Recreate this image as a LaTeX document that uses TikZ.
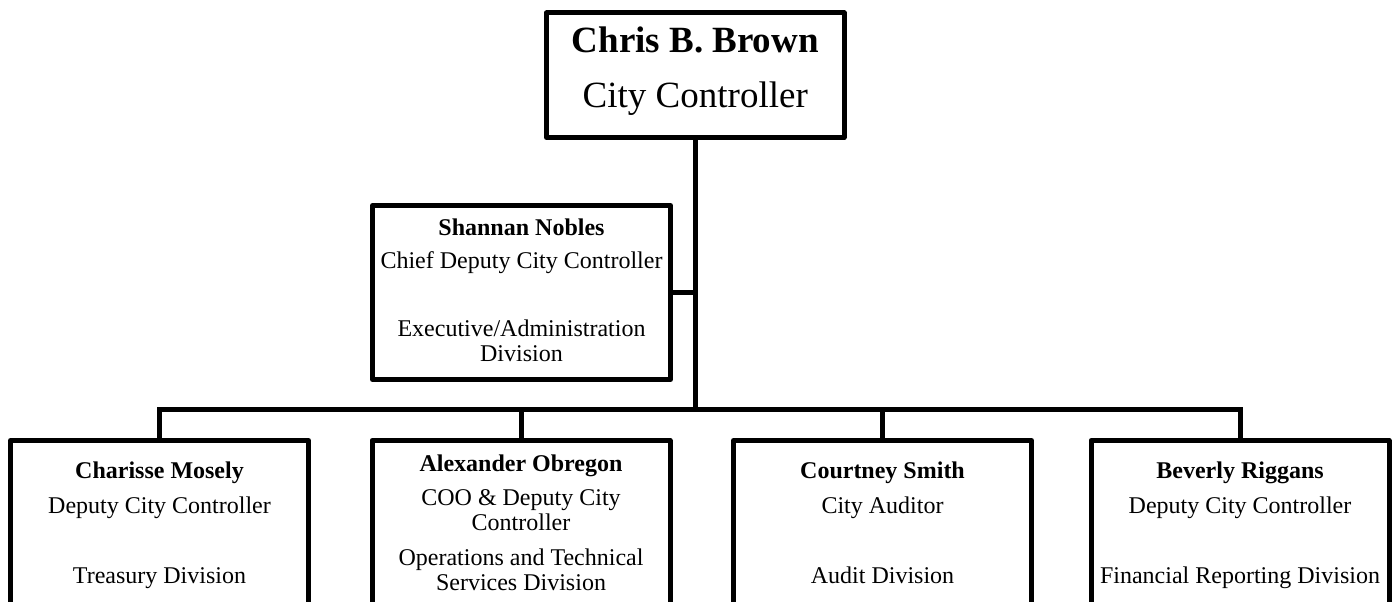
\documentclass[tikz,border=0pt]{standalone}
\usepackage{fontspec}
\setmainfont{Liberation Serif}
\begin{document}
\begin{tikzpicture}[x=1pt,y=-1pt,
  box/.style={draw=black,line width=5pt,line join=round,rectangle,inner sep=0pt,minimum width=298pt},
  conn/.style={draw=black,line width=5pt,line join=miter,line cap=rect},
  txt/.style={inner sep=0pt,anchor=base,font=\fontsize{24}{25}\selectfont},
  bigtxt/.style={inner sep=0pt,anchor=base,font=\fontsize{37}{40}\selectfont}]
\useasboundingbox (0,0) rectangle (1398,602);
\clip (0,0) rectangle (1398,602);
\fill[white] (0,0) rectangle (1398,602);
% boxes
\node[box,minimum width=297.5pt,minimum height=124.5pt] (boss) at (695.25,75.25) {};
\node[box,minimum height=174pt] (sn) at (521.5,292.5) {};
\node[box,minimum height=170pt] (cm) at (159.5,525.5) {};
\node[box,minimum height=170pt] (ao) at (521,525.5) {};
\node[box,minimum height=170pt] (cs) at (882.5,525.5) {};
\node[box,minimum height=170pt] (br) at (1240,525.5) {};
\coordinate (bar) at (0,409);
% connectors
\draw[conn] (boss.south) -- (boss.south |- bar);
\draw[conn] (sn.east) -- (sn.east -| boss.south);
\draw[conn] (cm.north) -- (cm.north |- bar) -- (br.north |- bar) -- (br.north);
\draw[conn] (ao.north) -- (ao.north |- bar);
\draw[conn] (cs.north) -- (cs.north |- bar);
% texts
\node[bigtxt] (boss1) at (695.25,53) {\textbf{Chris B. Brown}};
\node[bigtxt] (boss2) at (695.25,107) {City Controller};
\node[txt] (sn1) at (521.5,235) {\textbf{Shannan Nobles}};
\node[txt] (sn2) at (521.5,268) {Chief Deputy City Controller};
\node[txt] (sn3) at (521.5,336.5) {Executive/Administration};
\node[txt] (sn4) at (521.5,361.5) {Division};
\node[txt] (cm1) at (159.5,478) {\textbf{Charisse Mosely}};
\node[txt] (cm2) at (159.5,513) {Deputy City Controller};
\node[txt] (cm3) at (159.5,583) {Treasury Division};
\node[txt] (ao1) at (521,471) {\textbf{Alexander Obregon}};
\node[txt] (ao2) at (521,505) {COO \& Deputy City};
\node[txt] (ao3) at (521,530) {Controller};
\node[txt] (ao4) at (521,565) {Operations and Technical};
\node[txt] (ao5) at (521,590) {Services Division};
\node[txt] (cs1) at (882.5,478) {\textbf{Courtney Smith}};
\node[txt] (cs2) at (882.5,513) {City Auditor};
\node[txt] (cs3) at (882.5,583) {Audit Division};
\node[txt] (br1) at (1240,478) {\textbf{Beverly Riggans}};
\node[txt] (br2) at (1240,513) {Deputy City Controller};
\node[txt] (br3) at (1240,583) {Financial Reporting Division};
\end{tikzpicture}
\end{document}
